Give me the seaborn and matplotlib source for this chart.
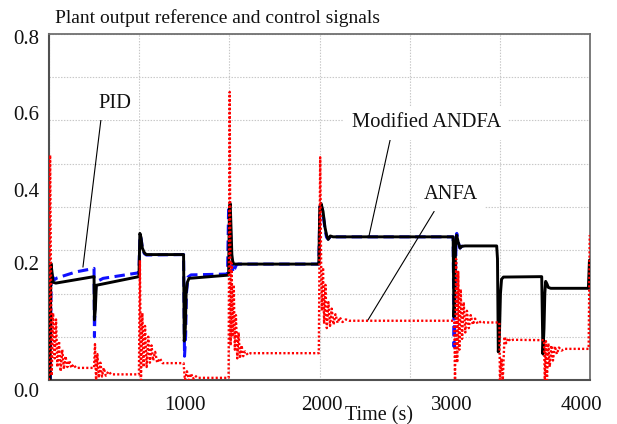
import numpy as np
import pandas as pd
import matplotlib
matplotlib.use("Agg")
import matplotlib.pyplot as plt
import seaborn as sns

# ---------------- data ----------------
# Modified ANDFA plant output (black solid)
andfa_t = [0, 8, 14, 22, 30, 50, 333, 336, 342, 350, 665, 672, 680, 690, 705, 720,
           995, 1000, 1008, 1014, 1022, 1035, 1328, 1334, 1340, 1346, 1352, 1358, 1365,
           1995, 2002, 2012, 2026, 2040, 2052, 2064, 2080, 2100, 2988, 2994, 3000, 3006,
           3014, 3026, 3039, 3051, 3076, 3310, 3316, 3322, 3330, 3338, 3346, 3360, 3643,
           3652, 3660, 3666, 3672, 3682, 3692, 3710, 3988, 3996, 4000]
andfa_y = [0.0, 0.0, 0.27, 0.25, 0.226, 0.224, 0.239, 0.139, 0.16, 0.219, 0.239, 0.339,
           0.33, 0.305, 0.294, 0.29, 0.29, 0.09, 0.12, 0.2, 0.225, 0.235, 0.2425, 0.40,
           0.408, 0.35, 0.29, 0.275, 0.268, 0.268, 0.40, 0.408, 0.39, 0.354, 0.335, 0.325,
           0.333, 0.331, 0.331, 0.146, 0.20, 0.31, 0.335, 0.318, 0.305, 0.309, 0.31, 0.31,
           0.28, 0.065, 0.10, 0.20, 0.233, 0.238, 0.239, 0.06, 0.12, 0.20, 0.228, 0.222,
           0.214, 0.212, 0.212, 0.277, 0.277]

# PID plant output (blue dashed)
pid_t = [0, 10, 16, 25, 40, 60, 200, 333, 336, 342, 350, 400, 665, 672, 682, 692, 706,
         720, 995, 1002, 1010, 1016, 1028, 1050, 1320, 1328, 1336, 1344, 1352, 1360, 1370,
         1385, 1400, 1995, 2003, 2012, 2026, 2040, 2052, 2064, 2080, 2988, 2995, 3002,
         3010, 3015, 3026, 3039, 3051, 3060]
pid_y = [0.0, 0.0, 0.25, 0.24, 0.232, 0.236, 0.25, 0.258, 0.10, 0.2, 0.227, 0.235, 0.248,
         0.335, 0.325, 0.30, 0.292, 0.289, 0.29, 0.055, 0.10, 0.20, 0.238, 0.243, 0.245,
         0.397, 0.39, 0.33, 0.27, 0.248, 0.255, 0.266, 0.268, 0.268, 0.40, 0.405, 0.385,
         0.35, 0.33, 0.326, 0.331, 0.331, 0.077, 0.20, 0.32, 0.339, 0.318, 0.305, 0.309, 0.31]

# ANFA control signal (red dotted)
anfa_t = [0, 8, 20, 30, 42, 52, 62, 74, 86, 98, 110, 122, 136, 150, 165, 180, 200, 333,
          340, 348, 358, 368, 380, 392, 405, 420, 440, 460, 665,
          672, 680, 690, 700, 710, 722, 734, 746, 758, 770, 785, 800, 820, 840, 995,
          1005, 1020, 1035, 1050, 1065, 1080, 1100, 1328,
          1336, 1343, 1350, 1358, 1366, 1374, 1382, 1392, 1402, 1412, 1424, 1436, 1450,
          1470, 1490, 1995,
          2005, 2012, 2018, 2026, 2034, 2044, 2054, 2066, 2078, 2090, 2104, 2118, 2134,
          2150, 2170, 2195, 2220, 2996,
          3002, 3010, 3018, 3026, 3034, 3044, 3054, 3066, 3078, 3090, 3104, 3118, 3134,
          3150, 3170, 3195, 3220, 3330,
          3334, 3345, 3355, 3368, 3380, 3395, 3410, 3430, 3660,
          3666, 3674, 3682, 3692, 3702, 3714, 3726, 3740, 3755, 3770, 3790, 3810, 3990, 3998]
anfa_y = [0.0, 0.52, 0.01, 0.155, 0.05, 0.14, 0.03, 0.09, 0.02, 0.07, 0.025, 0.055, 0.03,
          0.045, 0.028, 0.036, 0.028, 0.028,
          0.083, 0.0, 0.06, 0.005, 0.04, 0.008, 0.028, 0.01, 0.02, 0.013, 0.013,
          0.277, 0.0, 0.155, 0.03, 0.125, 0.03, 0.10, 0.04, 0.08, 0.045, 0.065, 0.04, 0.05,
          0.039, 0.039,
          0.0, 0.02, 0.0, 0.015, 0.003, 0.01, 0.005, 0.005,
          0.666, 0.08, 0.27, 0.10, 0.22, 0.07, 0.15, 0.05, 0.11, 0.05, 0.08, 0.055, 0.066,
          0.058, 0.062, 0.062,
          0.515, 0.27, 0.16, 0.26, 0.13, 0.22, 0.12, 0.18, 0.125, 0.165, 0.128, 0.152, 0.132,
          0.145, 0.134, 0.14, 0.137, 0.137,
          0.0, 0.28, 0.04, 0.25, 0.07, 0.21, 0.095, 0.18, 0.11, 0.16, 0.12, 0.15, 0.128,
          0.142, 0.13, 0.136, 0.133, 0.133,
          0.0, 0.05, 0.0, 0.10, 0.085, 0.097, 0.09, 0.093, 0.092,
          0.0, 0.09, 0.0, 0.085, 0.03, 0.08, 0.045, 0.078, 0.06, 0.075, 0.068, 0.072, 0.072,
          0.335]

x_tick_values = [1000, 2000, 3000, 4000]
y_tick_values = [0.0, 0.2, 0.4, 0.6, 0.8]

title = "Plant output reference and control signals"
xlabel = "Time (s)"

# ---------------- style ----------------
sns.set_theme(style="white")
plt.rcParams["font.family"] = ["Liberation Serif", "DejaVu Serif"]

fig = plt.figure(figsize=(6.17, 4.24), dpi=100)
fig.patch.set_facecolor("white")
ax = fig.add_axes([49 / 617, 44 / 424, 541 / 617, 346 / 424])
ax.set_facecolor("white")

ax.set_xlim(0, 4000)
ax.set_ylim(0, 0.8)

# grid: 6 vertical divisions, 8 horizontal divisions
ax.set_xticks(np.linspace(0, 4000, 7), minor=True)
ax.set_yticks(np.linspace(0, 0.8, 9), minor=True)
ax.set_xticks([])
ax.set_yticks([])
ax.grid(which="minor", color="#c8c8c8", linestyle=(0, (1.3, 1.3)), linewidth=0.8)
ax.tick_params(which="both", length=0, labelbottom=False, labelleft=False)
ax.set_axisbelow(True)

for side in ["left", "bottom"]:
    ax.spines[side].set_color("#505050")
    ax.spines[side].set_linewidth(1.5)
for side in ["top", "right"]:
    ax.spines[side].set_color("#707070")
    ax.spines[side].set_linewidth(1.3)

df_pid = pd.DataFrame({"t": pid_t, "y": pid_y})
df_andfa = pd.DataFrame({"t": andfa_t, "y": andfa_y})
df_anfa = pd.DataFrame({"t": anfa_t, "y": anfa_y})

sns.lineplot(data=df_pid, x="t", y="y", ax=ax, color="#1010ff", linewidth=2.2,
             sort=False, estimator=None, zorder=2)
l_pid = ax.lines[-1]
l_pid.set_dashes((3.4, 1.8))

sns.lineplot(data=df_andfa, x="t", y="y", ax=ax, color="black", linewidth=2.1,
             sort=False, estimator=None, zorder=3)

sns.lineplot(data=df_anfa, x="t", y="y", ax=ax, color="#ff0000", linewidth=1.7,
             sort=False, estimator=None, zorder=4)
l_anfa = ax.lines[-1]
l_anfa.set_dashes((0.9, 0.9))
l_anfa.set_dash_capstyle("butt")

ax.set_xlabel("")
ax.set_ylabel("")
ax.set_xlim(0, 4000)
ax.set_ylim(0, 0.8)

# tick labels (placed as in the reference)
x_label_pos = [1006, 2019, 2980, 3934]
for v, xp in zip(x_tick_values, x_label_pos):
    ax.text(xp, -0.0535, f"{v}", ha="center", va="center_baseline", fontsize=15,
            color="#111111", clip_on=False)
y_label_pos = [-0.023, 0.270, 0.439, 0.617, 0.794]
for v, yp in zip(y_tick_values, y_label_pos):
    ax.text(-0.0185, yp, f"{v:.1f}", transform=ax.get_yaxis_transform(),
            ha="right", va="center_baseline", fontsize=15, color="#111111", clip_on=False)

ax.text((379 - 49) / 541, (380 - 413) / 346, xlabel, transform=ax.transAxes,
        ha="center", va="center_baseline", fontsize=14.5, color="#111111")
fig.text(55 / 617, 1 - 16 / 424, title, ha="left", va="center_baseline",
         fontsize=14, color="#111111")

# annotations
box = dict(boxstyle="square,pad=0.35", facecolor="white", edgecolor="none")
ax.annotate("PID", xy=(251, 0.261), xytext=(488, 0.630), ha="center", va="baseline",
            fontsize=14.8, color="#111111", bbox=box, zorder=5,
            arrowprops=dict(arrowstyle="-", color="black", lw=0.8, shrinkA=0, shrinkB=0,
                            relpos=(0.1, 0.0)))
ax.annotate("Modified ANDFA", xy=(2366, 0.333), xytext=(2788, 0.584), ha="center",
            va="baseline", fontsize=14.8, color="#111111", bbox=box, zorder=5,
            arrowprops=dict(arrowstyle="-", color="black", lw=0.8, shrinkA=0, shrinkB=0,
                            relpos=(0.27, 0.0)))
ax.annotate("ANFA", xy=(2359, 0.139), xytext=(2972, 0.418), ha="center", va="baseline",
            fontsize=14.8, color="#111111", bbox=box, zorder=5,
            arrowprops=dict(arrowstyle="-", color="black", lw=0.8, shrinkA=0, shrinkB=0,
                            relpos=(0.27, 0.0)))

fig.savefig("out.png", dpi=100, facecolor="white")
